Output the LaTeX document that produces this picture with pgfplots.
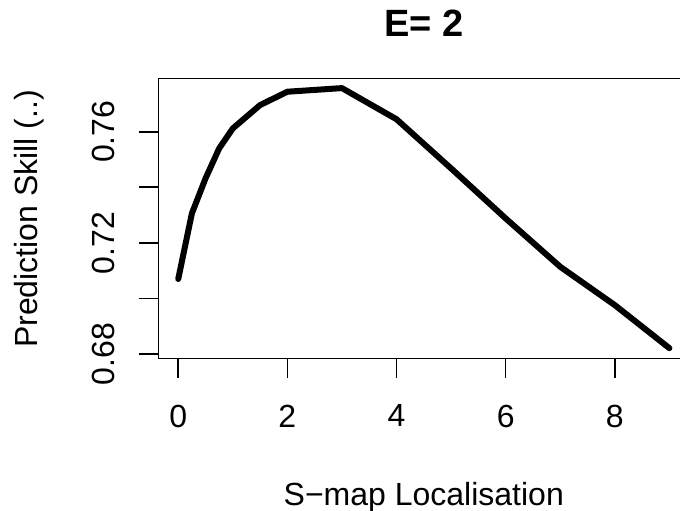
\documentclass[border=0pt]{standalone}
\usepackage{pgfplots}
\pgfplotsset{compat=1.18}
\usepackage{fontspec}
\setmainfont{Liberation Sans}

\begin{document}
\fontsize{16}{19}\selectfont
\begin{tikzpicture}
\path[use as bounding box] (0,0) rectangle (340pt,255pt);
\clip (0,0) rectangle (340pt,255pt);
\begin{axis}[
  at={(79.3pt,75.85pt)}, anchor=south west,
  scale only axis, width=265.2pt, height=140pt,
  xmin=-0.36, xmax=9.36, ymin=0.67845, ymax=0.77923,
  axis line style={line width=0.8pt},
  tick pos=left, tick align=outside,
  major tick length=9.8pt,
  every tick/.style={black, line width=0.8pt},
  xtick={0,2,4,6,8},
  xticklabels={0,2,4,6,8},
  ytick={0.68,0.70,0.72,0.74,0.76},
  yticklabels={0.68,,0.72,,0.76},
  /pgf/number format/assume math mode=true,
  ticklabel style={font=\fontsize{16}{19}\selectfont},
  xticklabel style={anchor=north, yshift=-8pt},
  yticklabel style={xshift=-6.7pt, rotate=90, anchor=south},
]
\addplot[black, line width=3pt, line cap=round, line join=round] coordinates {
  (0,0.7070) (0.25,0.7306) (0.5,0.7432) (0.75,0.7540) (1,0.7612)
  (1.5,0.7696) (2,0.7744) (3,0.7757) (4,0.7645) (5,0.7468)
  (6,0.7288) (7,0.7114) (8,0.6976) (9,0.6821)
};
\end{axis}
\node[anchor=base, font=\fontsize{19}{23}\bfseries] at (211.9pt,236.65pt) {E= 2};
\node[anchor=base] at (211.9pt,2.5pt) {S−map Localisation};
\node[rotate=90, anchor=base] at (18.65pt,145.5pt) {Prediction Skill (..)};
\end{tikzpicture}
\end{document}
